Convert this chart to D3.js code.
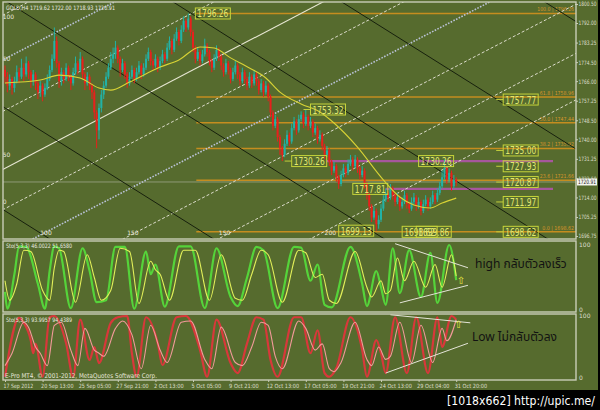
<!DOCTYPE html>
<html>
<head>
<meta charset="utf-8">
<style>
  body { margin: 0; background: #000; }
  svg text { font-family: "DejaVu Sans", "Liberation Sans", sans-serif; }
  .thai { font-family: "Noto Sans Thai", "Loma", "Garuda", "Tlwg Typo", "Noto Sans", "DejaVu Sans", sans-serif; }
</style>
</head>
<body>
<div class="chart"></div>
<script src="https://d3js.org/d3.v7.min.js"></script>
<script type="text/javascript">

// ---- data ----
var firstOpen = 1771;
var closes = [
  1768,1764,1767,1763,1766,1770,1768,1772,1769,1774,
  1770,1766,1769,1765,1761,1764,1760,1763,1767,1771,
  1776,1784,1774,1766,1770,1767,1772,1768,1765,1770,
  1774,1771,1776,1769,1765,1768,1764,1761,1752,1744,
  1754,1760,1764,1768,1772,1776,1778,1781,1776,1771,
  1774,1769,1765,1768,1771,1767,1770,1773,1769,1772,
  1776,1779,1775,1773,1776,1772,1775,1778,1776,1781,
  1784,1780,1785,1788,1784,1789,1793,1790,1794,1788,
  1781,1776,1779,1775,1778,1782,1779,1775,1772,1776,
  1780,1777,1773,1770,1774,1771,1767,1770,1773,1769,
  1766,1770,1767,1764,1768,1765,1769,1766,1762,1765,
  1761,1764,1759,1752,1746,1749,1741,1736,1733,1738,
  1742,1739,1745,1748,1744,1749,1751,1747,1750,1746,
  1748,1743,1745,1740,1742,1737,1733,1735,1730,1726,
  1728,1723,1720,1724,1727,1725,1729,1731,1728,1731,
  1727,1724,1726,1720,1715,1710,1705,1708,1702,1704,
  1709,1713,1716,1714,1718,1715,1712,1714,1710,1712,
  1715,1711,1709,1712,1714,1710,1712,1708,1711,1713,
  1710,1712,1715,1713,1716,1719,1723,1727,1722,1725,
  1719,1722,1720.91];
var highs = [
  1773,1770,1769,1768,1768,1773,1772,1776,1774,1777,
  1775,1771,1771,1770,1766,1766,1765,1765,1769,1773,
  1778,1790,1786,1775,1772,1771,1774,1773,1769,1772,
  1777,1775,1779,1777,1770,1770,1769,1765,1762,1753,
  1756,1762,1766,1770,1774,1779,1781,1784,1782,1777,
  1776,1775,1770,1770,1773,1772,1772,1775,1774,1774,
  1778,1781,1780,1776,1778,1777,1777,1780,1779,1783,
  1786,1785,1787,1790,1789,1791,1795,1794,1796.26,1795,
  1789,1782,1781,1780,1780,1785,1783,1780,1776,1778,
  1782,1781,1778,1774,1776,1775,1772,1772,1775,1774,
  1770,1772,1771,1768,1770,1769,1771,1770,1767,1767,
  1766,1766,1765,1760,1753,1751,1750,1742,1737,1740,
  1744,1743,1747,1750,1749,1751,1752.5,1752,1753.32,1751,
  1750,1749,1747,1746,1744,1743,1738,1737,1736,1731,
  1730,1729,1724,1726,1729,1728,1731,1733,1732,1733,
  1732,1728,1728,1727,1721,1716,1711,1710,1709,1706,
  1711,1715,1718,1717,1720,1719,1716,1716,1715,1714,
  1717,1716,1712,1714,1716,1715,1714,1713,1713,1715,
  1714,1714,1717,1716,1718,1721,1726,1731,1728,1727,
  1726,1724,1723];
var lows = [
  1765,1761,1762,1760,1761,1765,1765,1767,1766,1768,
  1767,1763,1764,1762,1758,1759,1757,1759,1762,1766,
  1770,1775,1772,1763,1764,1765,1766,1766,1762,1764,
  1769,1769,1770,1767,1762,1764,1762,1758,1749,1736,
  1740,1752,1758,1763,1767,1771,1774,1776,1774,1768,
  1770,1767,1763,1764,1767,1765,1766,1769,1767,1768,
  1771,1775,1773,1771,1772,1770,1771,1774,1774,1775,
  1780,1778,1779,1784,1782,1783,1788,1788,1789,1786,
  1779,1774,1775,1773,1774,1777,1777,1773,1770,1771,
  1775,1775,1771,1768,1769,1769,1765,1766,1769,1767,
  1764,1765,1765,1762,1763,1763,1764,1764,1760,1761,
  1759,1760,1757,1750,1744,1745,1739,1733,1730.26,1732,
  1737,1737,1738,1744,1742,1743,1748,1745,1746,1744,
  1745,1741,1742,1738,1739,1735,1731,1732,1728,1724,
  1725,1721,1717.81,1719,1723,1723,1724,1728,1726,1727,
  1725,1722,1723,1718,1713,1708,1703,1704,1699.13,1700,
  1703,1708,1712,1712,1713,1713,1710,1711,1708,1709,
  1711,1709,1707,1708,1711,1708,1709,1706,1707,1710,
  1708,1709,1711,1711,1712,1715,1718,1722,1720,1721,
  1717,1718,1719];

// moving average, [bar, price]
var maPoints = [[0,1765.2],[15,1766.5],[23,1768.7],[32,1767.4],[40,1762.9],[45,1762],
  [53,1765.6],[66,1772.3],[74,1775.5],[83,1781.3],[89,1780.8],[96,1776.4],[104,1771.9],
  [111,1767.4],[117,1761.1],[126,1755.8],[134,1752.2],[140,1747.3],[150,1736.5],
  [160,1723.1],[168,1714.2],[174,1710.6],[181,1709.3],[186,1711.5],[192,1713.7]];

// stochastic on highs, [bar, value]
var stoHighMain = [[0,28],[1,2],[4,55],[6,98],[9,97],[14,40],[17,2],[19,60],[21,98],[23,95],
  [28,3],[33,95],[36,60],[39,12],[43,15],[47,97],[51,97],[55,2],[60,90],[62,55],[64,70],
  [68,5],[74,98],[79,98],[85,3],[90,95],[96,20],[99,6],[103,50],[107,97],[110,92],[116,3],
  [123,97],[126,96],[130,45],[133,70],[136,8],[139,4],[147,97],[152,40],[154,6],[158,60],
  [160,35],[162,8],[165,95],[168,26],[172,92],[177,20],[181,88],[184,11],[189,100],[192,46]];
var stoHighSignal = [[0,45],[2,15],[5,40],[8,92],[11,90],[16,30],[19,15],[21,65],[23,92],[25,90],
  [30,12],[35,85],[38,50],[41,15],[45,30],[49,95],[53,90],[57,10],[62,75],[64,62],[66,55],
  [70,15],[76,92],[81,92],[87,15],[92,85],[98,18],[101,15],[105,55],[109,92],[112,85],[118,12],
  [125,92],[128,88],[132,50],[135,55],[138,15],[141,10],[149,90],[154,35],[156,20],[160,45],
  [162,25],[164,30],[167,80],[170,45],[174,75],[179,35],[183,70],[186,35],[190,85],[192,52]];

// stochastic on lows, [bar, value]
var stoLowMain = [[0,2],[6,97],[8,89],[11,60],[12,40],[13,55],[16,2],[19,98],[21,100],[26,56],
  [29,2],[32,94],[36,29],[38,50],[40,24],[45,89],[48,98],[52,100],[54,40],[56,2],[60,98],
  [65,56],[67,21],[73,98],[77,100],[83,45],[86,2],[90,94],[96,24],[99,8],[103,56],[107,98],
  [110,94],[113,29],[116,2],[123,98],[126,98],[130,40],[133,77],[136,8],[138,2],[141,16],
  [147,98],[152,45],[154,2],[158,61],[160,40],[162,8],[166,98],[171,8],[175,98],[180,8],
  [184,98],[186,50],[190,100],[192,94]];
var stoLowSignal = [[0,20],[3,40],[8,90],[10,82],[13,50],[15,40],[18,20],[21,85],[24,90],[28,45],
  [31,20],[34,80],[38,45],[40,40],[42,35],[47,80],[50,92],[54,70],[58,15],[62,85],[66,45],
  [69,25],[75,90],[79,92],[85,30],[88,15],[92,82],[98,25],[101,20],[105,50],[109,90],[112,85],
  [115,35],[118,15],[125,92],[128,80],[132,45],[135,55],[138,15],[140,10],[143,25],[149,90],
  [154,30],[156,20],[159,50],[162,30],[164,35],[168,90],[173,25],[177,85],[182,25],[186,80],
  [188,60],[192,94]];

var priceTicks = [1800.50,1792.00,1783.25,1774.50,1766.00,1757.25,1748.50,1740.00,1731.25,1722.50,1714.00,1705.25,1696.75];
var timeTicks = [0,16,32,48,64,80,96,112,128,144,160,176,192];
var timeLabels = ["17 Sep 2012","20 Sep 13:00","25 Sep 05:00","27 Sep 21:00","2 Oct 13:00","5 Oct 05:00",
  "9 Oct 21:00","12 Oct 13:00","17 Oct 05:00","19 Oct 21:00","24 Oct 13:00","29 Oct 04:00","31 Oct 20:00"];

// fibo retracement from the 1796.26 high (bar 78)
var fiboStart = 78;
var fiboLevels = ["100.0","61.8","50.0","38.2","23.6","0.0"];
var fiboPrices = [1796.26,1758.96,1747.44,1735.92,1721.66,1698.62];

// horizontal magenta levels [fromBar, price]
var magentaLevels = [[137,1730.26],[162,1717.81]];

// rising channel lines [bar1, price1, bar2, price2]
var riseDashed = [[0,1796,200,1905],[0,1753,200,1862],[0,1709,200,1818],[0,1668,200,1777],[0,1646,200,1755],[0,1624,200,1734]];
var riseSolid = [[0,1727,200,1837]];
var riseDotted = [[0,1776,200,1885],[0,1689,200,1798]];
// falling channel lines
var fallLines = [[0,1708,200,1576],[0,1754,200,1622],[0,1802,200,1670],[0,1849,200,1716],[0,1896,200,1764],[0,1953,200,1821]];

// price tags [bar, price, text]
var tags = [[81,1796.26,"1796.26"],[130,1753.32,"1753.32"],[122,1730.26,"1730.26"],[176,1730.26,"1730.26"],
  [148,1717.81,"1717.81"],[142,1699.13,"1699.13"],[169,1698.62,"1698.62"],[175,1698.62,"1699.86"],
  [212,1757.77,"1757.77"],[212,1735.00,"1735.00"],[212,1727.93,"1727.93"],[212,1720.87,"1720.87"],
  [212,1711.97,"1711.97"],[212,1698.62,"1698.62"]];
var leaderTags = [1,2,8,9,10,11,12,13];

// channel labels [bar, price, text]
var chanLabels = [[15,1697.3,"100"],[52,1697.3,"150"],[91,1697.3,"150"],[136,1697.3,"200"],
  [-1,1794,"100"],[-1,1775,"50"],[-1,1732,"50"],[-1,1711,"0"]];

// panel trend lines [bar1, v1, bar2, v2]
var highTrend = [[166,102,197,65],[168,11,197,38]];
var lowTrend = [[164,102,198,89],[162,8,197,56]];

var lastPrice = 1720.91;

// ---- layout ----
var W = 600, H = 410;
var left = 3, right = 576;

var x = d3.scaleLinear().domain([0, 192]).range([5, 456.2]);
var yP = d3.scaleLinear().domain([1696.75, 1800.5]).range([236, 4]);
var yS1 = d3.scaleLinear().domain([0, 100]).range([310, 245]);
var yS2 = d3.scaleLinear().domain([0, 100]).range([378, 316]);

var svg = d3.select(".chart").append("svg")
    .attr("width", W)
    .attr("height", H);

svg.append("rect").attr("width", W).attr("height", H).attr("fill", "#000");
svg.append("rect").attr("x", 0).attr("y", 0).attr("width", 598).attr("height", 390).attr("fill", "#566b2e");

var defs = svg.append("defs");
function clip(id, y0, y1) {
    defs.append("clipPath").attr("id", id).append("rect")
        .attr("x", left).attr("y", y0).attr("width", right - left).attr("height", y1 - y0);
}
clip("cMain", 2, 239);
clip("cS1", 241, 312);
clip("cS2", 314, 380);

var gMain = svg.append("g").attr("clip-path", "url(#cMain)");

// fibo lines
fiboPrices.forEach(function(p, k) {
    var label = fiboLevels[k] + " | " + p.toFixed(2);
    gMain.append("line")
        .attr("x1", x(fiboStart) + 8).attr("x2", right)
        .attr("y1", yP(p)).attr("y2", yP(p))
        .attr("stroke", "#c58d1f").attr("stroke-width", 1.5);
    gMain.append("text")
        .attr("x", 574).attr("y", yP(p) - 2)
        .attr("text-anchor", "end")
        .attr("font-size", 5.5)
        .attr("fill", "#d9952a")
        .attr("textLength", label.length * 2.45)
        .attr("lengthAdjust", "spacingAndGlyphs")
        .text(label);
});

// magenta levels
magentaLevels.forEach(function(m) {
    gMain.append("line")
        .attr("x1", x(m[0])).attr("x2", 553)
        .attr("y1", yP(m[1])).attr("y2", yP(m[1]))
        .attr("stroke", "#a6579c").attr("stroke-width", 2.2);
});

// bid line
gMain.append("line")
    .attr("x1", left).attr("x2", right)
    .attr("y1", yP(lastPrice)).attr("y2", yP(lastPrice))
    .attr("stroke", "#9aa48a").attr("stroke-width", 0.8);

function chan(list, color, width, dash) {
    gMain.selectAll(null).data(list).enter().append("line")
        .attr("x1", function(d) { return x(d[0] - 20); })
        .attr("y1", function(d) { return yP(d[1] + (d[3] - d[1]) / (d[2] - d[0]) * -20); })
        .attr("x2", function(d) { return x(d[2] + 60); })
        .attr("y2", function(d) { return yP(d[3] + (d[3] - d[1]) / (d[2] - d[0]) * 60); })
        .attr("stroke", color).attr("stroke-width", width)
        .attr("stroke-dasharray", dash);
}
chan(riseDashed, "#dcdccb", 1, "3,2");
chan(riseDotted, "#b9c2d6", 1.6, "1.6,1.4");
chan(riseSolid, "#e6e6d2", 1.1, null);
chan(fallLines, "#17200d", 1, null);

gMain.selectAll(null).data(chanLabels).enter().append("text")
    .attr("x", function(d) { return x(d[0]); })
    .attr("y", function(d) { return yP(d[1]); })
    .attr("font-size", 6).attr("fill", "#e8e8dc")
    .text(function(d) { return d[2]; });

// candles
var bars = closes.map(function(c, i) {
    return { i: i, o: i ? closes[i - 1] : firstOpen, c: c, h: highs[i], l: lows[i] };
});
var candle = gMain.selectAll(".cd").data(bars).enter().append("g");
candle.append("line")
    .attr("x1", function(d) { return x(d.i); })
    .attr("x2", function(d) { return x(d.i); })
    .attr("y1", function(d) { return yP(d.h); })
    .attr("y2", function(d) { return yP(d.l); })
    .attr("stroke", function(d) { return d.c >= d.o ? "#22b2a6" : "#e8201c"; })
    .attr("stroke-width", 1);
candle.append("rect")
    .attr("x", function(d) { return x(d.i) - 1; })
    .attr("width", 2)
    .attr("y", function(d) { return yP(Math.max(d.o, d.c)); })
    .attr("height", function(d) { return Math.max(0.8, Math.abs(yP(d.o) - yP(d.c))); })
    .attr("fill", function(d) { return d.c >= d.o ? "#22b2a6" : "#e8201c"; });

// moving average
gMain.append("path")
    .datum(maPoints)
    .attr("fill", "none")
    .attr("stroke", "#d8d335")
    .attr("stroke-width", 1.1)
    .attr("d", d3.line()
        .x(function(d) { return x(d[0]); })
        .y(function(d) { return yP(d[1]); })
        .curve(d3.curveMonotoneX));

// price tags
tags.forEach(function(t, k) {
    var tx = x(t[0]), ty = yP(t[1]);
    if (leaderTags.indexOf(k) >= 0) {
        gMain.append("line").attr("x1", tx - 7).attr("x2", tx).attr("y1", ty).attr("y2", ty)
            .attr("stroke", "#c2cf3c").attr("stroke-width", 1);
    }
    gMain.append("rect")
        .attr("x", tx).attr("y", ty - 5.5).attr("width", 35).attr("height", 11)
        .attr("fill", "none").attr("stroke", "#c6d43a").attr("stroke-width", 1);
    gMain.append("text")
        .attr("x", tx + 2).attr("y", ty + 4)
        .attr("font-size", 10.5).attr("fill", "#e2e870")
        .attr("textLength", 31).attr("lengthAdjust", "spacingAndGlyphs")
        .text(t[2]);
});

// ---- stochastic panels ----
function stoPanel(clipId, ys, main, sig, mainColor, sigColor, trends) {
    var g = svg.append("g").attr("clip-path", "url(#" + clipId + ")");
    var ln = d3.line()
        .x(function(d) { return x(d[0]); })
        .y(function(d) { return ys(d[1]); })
        .curve(d3.curveMonotoneX);
    g.append("path").datum(main).attr("fill", "none")
        .attr("stroke", mainColor).attr("stroke-width", 2.2).attr("d", ln);
    g.append("path").datum(sig).attr("fill", "none")
        .attr("stroke", sigColor).attr("stroke-width", 1.1).attr("d", ln);
    g.selectAll(null).data(trends).enter().append("line")
        .attr("x1", function(d) { return x(d[0]); })
        .attr("y1", function(d) { return ys(d[1]); })
        .attr("x2", function(d) { return x(d[2]); })
        .attr("y2", function(d) { return ys(d[3]); })
        .attr("stroke", "#e4e4d8").attr("stroke-width", 1);
    return g;
}
stoPanel("cS1", yS1, stoHighMain, stoHighSignal, "#55d43a", "#e2f05a", highTrend);
stoPanel("cS2", yS2, stoLowMain, stoLowSignal, "#d8383a", "#f39a9a", lowTrend);

// arrows
svg.append("text").attr("x", x(194)).attr("y", yS1(40)).attr("font-size", 10)
    .attr("fill", "#e8e840").attr("text-anchor", "middle").text("\u21e7");
svg.append("text").attr("x", x(193)).attr("y", yS2(80)).attr("font-size", 10)
    .attr("fill", "#e8e840").attr("text-anchor", "middle").text("\u21e7");

svg.append("text").attr("class", "thai").attr("x", 475).attr("y", 268)
    .attr("font-size", 12).attr("fill", "#121212").text("high กลับตัวลงเร็ว");
svg.append("text").attr("class", "thai").attr("x", 472).attr("y", 341)
    .attr("font-size", 12).attr("fill", "#121212").text("Low  ไม่กลับตัวลง");

// ---- frames ----
[[2, 239], [241, 312], [314, 380]].forEach(function(r) {
    svg.append("rect").attr("x", left).attr("y", r[0]).attr("width", right - left).attr("height", r[1] - r[0])
        .attr("fill", "none").attr("stroke", "#c9cdb8").attr("stroke-width", 1.4);
});

// ---- axes ----
function styleAxis(g) {
    g.select(".domain").remove();
    g.selectAll("line").attr("stroke", "#c9cdb8");
    g.selectAll("text").attr("fill", "#dedfcc").attr("font-size", 6)
        .attr("font-family", "DejaVu Sans, sans-serif");
}
var pAx = svg.append("g").attr("transform", "translate(" + right + ",0)")
    .call(d3.axisRight(yP).tickValues(priceTicks).tickSize(2).tickPadding(0.5)
        .tickFormat(d3.format(".2f")))
    .call(styleAxis);
pAx.selectAll("text").attr("textLength", 18).attr("lengthAdjust", "spacingAndGlyphs");
svg.append("g").attr("transform", "translate(" + right + ",0)")
    .call(d3.axisRight(yS1).tickValues([0, 100]).tickSize(0).tickPadding(3))
    .call(styleAxis);
svg.append("g").attr("transform", "translate(" + right + ",0)")
    .call(d3.axisRight(yS2).tickValues([0, 100]).tickSize(0).tickPadding(3))
    .call(styleAxis);

var xAx = svg.append("g").attr("transform", "translate(0,380)")
    .call(d3.axisBottom(x).tickValues(timeTicks).tickSize(2).tickPadding(2)
        .tickFormat(function(d, k) { return timeLabels[k]; }))
    .call(styleAxis);
xAx.selectAll("text").attr("text-anchor", "start").attr("dx", -2)
    .attr("font-size", 5.8)
    .attr("textLength", function(d, k) { return timeLabels[k].length * 2.7; })
    .attr("lengthAdjust", "spacingAndGlyphs");

// last price tag
svg.append("rect").attr("x", 577).attr("y", yP(lastPrice) - 3.5).attr("width", 20).attr("height", 7).attr("fill", "#f4f4ee");
svg.append("text").attr("x", 578).attr("y", yP(lastPrice) + 2.2).attr("font-size", 6).attr("fill", "#222")
    .attr("textLength", 18).attr("lengthAdjust", "spacingAndGlyphs").text(lastPrice.toFixed(2));

// ---- texts ----
svg.append("text").attr("x", 6).attr("y", 10).attr("font-size", 6).attr("fill", "#ecece2")
    .attr("textLength", 109).attr("lengthAdjust", "spacingAndGlyphs")
    .text("GOLD,H4  1719.62 1722.00 1718.93 1720.91");
svg.append("text").attr("x", 6).attr("y", 247.5).attr("font-size", 6).attr("fill", "#ecece2")
    .attr("textLength", 66).attr("lengthAdjust", "spacingAndGlyphs")
    .text("Sto(5,3,3) 46.0022 51.6580");
svg.append("text").attr("x", 6).attr("y", 321.5).attr("font-size", 6).attr("fill", "#ecece2")
    .attr("textLength", 66).attr("lengthAdjust", "spacingAndGlyphs")
    .text("Sto(5,3,3) 93.9957 94.4389");
svg.append("text").attr("x", 5).attr("y", 377.5).attr("font-size", 6.5).attr("fill", "#e6e6da")
    .attr("textLength", 152).attr("lengthAdjust", "spacingAndGlyphs")
    .text("E-Pro MT4, \u00a9 2001-2012, MetaQuotes Software Corp.");

svg.append("text").attr("x", 447).attr("y", 405).attr("font-size", 13).attr("fill", "#ffffff")
    .attr("font-family", "DejaVu Sans Mono, monospace")
    .attr("textLength", 148).attr("lengthAdjust", "spacingAndGlyphs")
    .text("[1018x662] http://upic.me/");

</script>
</body>
</html>
